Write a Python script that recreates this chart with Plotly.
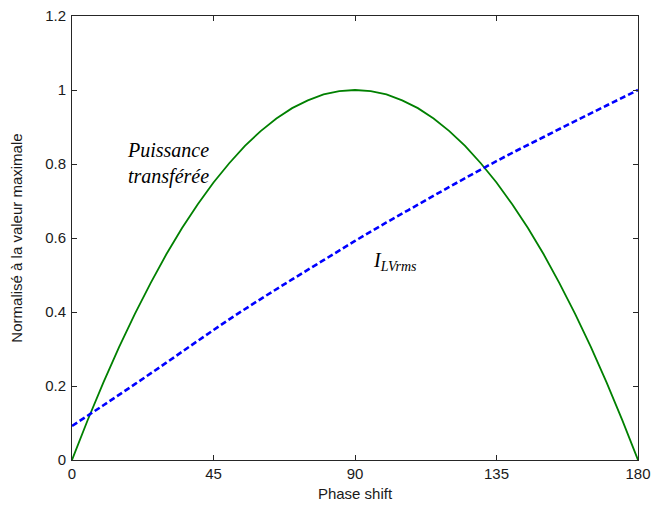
import plotly.graph_objects as go

# Phase shift (degrees) for the power curve
phase_p = [0, 5, 10, 15, 20, 25, 30, 35, 40, 45, 50, 55, 60, 65, 70, 75, 80, 85, 90,
           95, 100, 105, 110, 115, 120, 125, 130, 135, 140, 145, 150, 155, 160, 165,
           170, 175, 180]

# Transferred power, normalised to its maximum
puissance = [0.0, 0.108, 0.210, 0.306, 0.395, 0.478, 0.556, 0.627, 0.691, 0.750,
             0.802, 0.849, 0.889, 0.923, 0.951, 0.972, 0.988, 0.997, 1.0,
             0.997, 0.988, 0.972, 0.951, 0.923, 0.889, 0.849, 0.802, 0.750,
             0.691, 0.627, 0.556, 0.478, 0.395, 0.306, 0.210, 0.108, 0.0]

# Phase shift (degrees) for the current curve
phase_i = [0, 10, 20, 30, 40, 50, 60, 70, 80, 90,
           100, 110, 120, 130, 140, 150, 160, 170, 180]

# LV-side RMS current, normalised to its maximum
i_lv_rms = [0.092, 0.148, 0.205, 0.263, 0.322, 0.38, 0.435, 0.488, 0.54, 0.592,
            0.642, 0.69, 0.738, 0.785, 0.83, 0.873, 0.916, 0.958, 1.0]

x_ticks = [0, 45, 90, 135, 180]
y_ticks = [0, 0.2, 0.4, 0.6, 0.8, 1.0, 1.2]
y_tick_text = ["0", "0.2", "0.4", "0.6", "0.8", "1", "1.2"]

fig = go.Figure()
fig.add_trace(go.Scatter(
    x=phase_p, y=puissance, mode="lines",
    line=dict(color="#008000", width=1.8),
    showlegend=False,
))
fig.add_trace(go.Scatter(
    x=phase_i, y=i_lv_rms, mode="lines",
    line=dict(color="#0000ff", width=2.6, dash="6px,3px", shape="spline"),
    showlegend=False,
))

serif = "Liberation Serif, Times New Roman, serif"
fig.add_annotation(x=0.17, y=0.667, xref="paper", yref="paper",
                   xanchor="center", yanchor="middle",
                   text="<i>Puissance</i><br><i>transférée</i>",
                   showarrow=False, align="center",
                   font=dict(family=serif, size=20, color="black"))
fig.add_annotation(x=0.529, y=0.448, xref="paper", yref="paper",
                   xanchor="left", yanchor="middle",
                   text="<i>I</i><sub><i>LVrms</i></sub>",
                   showarrow=False,
                   font=dict(family=serif, size=20, color="black"))

sans = "Liberation Sans, Arial, sans-serif"
axis_common = dict(
    showline=True, linecolor="#262626", linewidth=1, mirror="ticks",
    ticks="inside", ticklen=5, tickcolor="#262626", tickwidth=1,
    showgrid=False, zeroline=False, automargin=False,
    tickfont=dict(family=sans, size=15, color="#1a1a1a"),
)

fig.update_xaxes(range=[0, 180], tickvals=x_ticks,
                 title=dict(text="Phase shift", standoff=7,
                            font=dict(family=sans, size=15, color="#1a1a1a")),
                 **axis_common)
fig.update_yaxes(range=[0, 1.2], tickvals=y_ticks, ticktext=y_tick_text,
                 ticklabelstandoff=2,
                 title=dict(text="Normalisé à la valeur maximale", standoff=18,
                            font=dict(family=sans, size=15, color="#1a1a1a")),
                 **axis_common)

fig.update_layout(
    width=652, height=506,
    margin=dict(l=72, r=14, t=16, b=46),
    paper_bgcolor="white", plot_bgcolor="white",
)

fig.write_html("out.html")
